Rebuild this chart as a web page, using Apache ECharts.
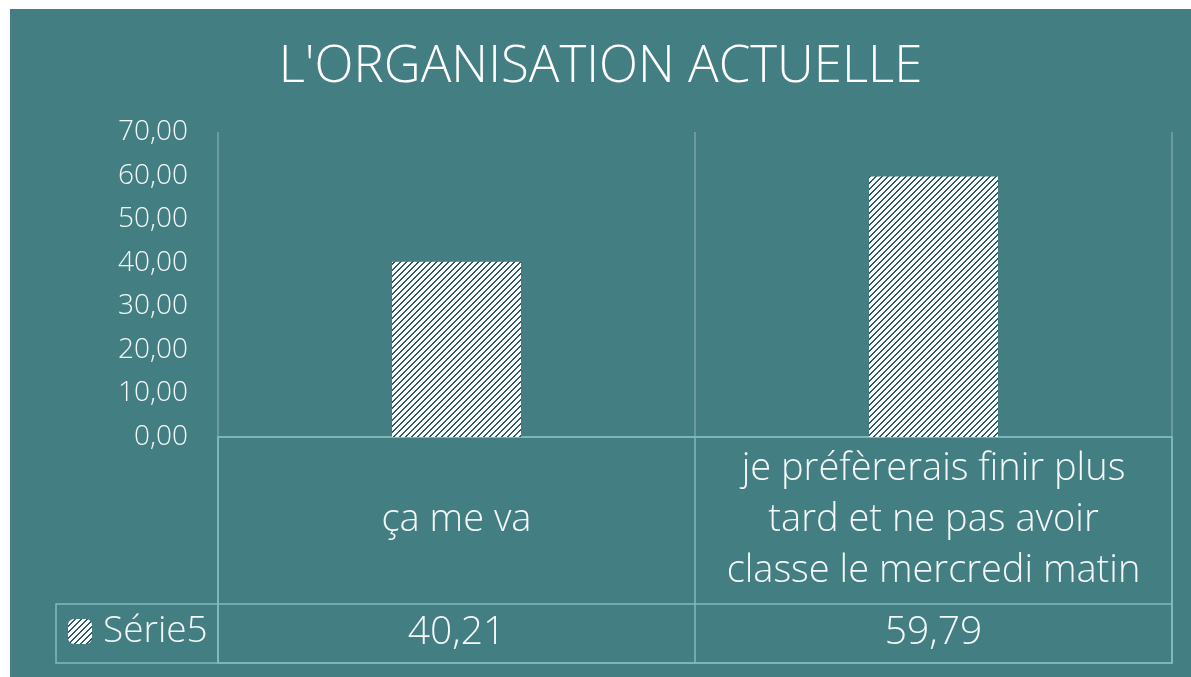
<!DOCTYPE html>
<html>
<head>
<meta charset="utf-8">
<script src="https://cdn.jsdelivr.net/npm/echarts@6/dist/echarts.min.js"></script>
<style>
  html, body { margin: 0; padding: 0; background: #ffffff; }
  #OrgChart { position: absolute; left: 10px; top: 9px; width: 1181px; height: 668px; }
</style>
</head>
<body>
<div id="OrgChart"></div>
<script>
const titleText = "L'ORGANISATION ACTUELLE";
const seriesName = 'Série5';
const categories = ['ça me va', 'je préfèrerais finir plus\ntard et ne pas avoir\nclasse le mercredi matin'];
const values = [40.21, 59.79];
const yTicks = { min: 0, max: 70, interval: 10 };

const FONT = '"Open Sans", sans-serif';
const TEXT = '#f4f8f8';
const TABLE_LINE = '#7fbcbc';

// motif hachuré des barres (blanc + diagonales foncées)
function hatch() {
  const c = document.createElement('canvas');
  c.width = 6; c.height = 6;
  const ctx = c.getContext('2d');
  ctx.fillStyle = '#ffffff';
  ctx.fillRect(0, 0, 6, 6);
  ctx.fillStyle = '#2c5d60';
  for (let x = 0; x < 6; x++) {
    for (let y = 0; y < 6; y++) {
      if ((x + y) % 6 < 2) ctx.fillRect(x, y, 1, 1);
    }
  }
  return c;
}

const fmt = v => v.toFixed(2).replace('.', ',');

let chart = echarts.init(document.getElementById('OrgChart'));
chart.setOption({
  backgroundColor: '#437e83',
  animation: false,
  title: {
    text: titleText,
    left: 'center',
    top: 28,
    textStyle: { color: '#ffffff', fontSize: 51, fontWeight: 300, fontFamily: FONT }
  },
  legend: {
    data: [seriesName],
    left: 58,
    top: 604,
    padding: 0,
    itemWidth: 24,
    itemHeight: 25,
    itemGap: 10,
    textStyle: { color: TEXT, fontSize: 37, fontWeight: 300, fontFamily: FONT, padding: [0, 0, 0, 6] }
  },
  grid: [
    { left: 208, right: 19, top: 123, bottom: 240 },                   // barres
    { left: 208, right: 19, top: 428, bottom: 14, show: true, borderColor: TABLE_LINE, borderWidth: 1.5 }, // table
    { left: 208, right: 19, top: 595, bottom: 14, show: true, borderColor: TABLE_LINE, borderWidth: 1.5 }, // ligne valeurs
    { left: 46, width: 162, top: 595, bottom: 14, show: true, borderColor: TABLE_LINE, borderWidth: 1.5 }  // cellule légende
  ],
  xAxis: [
    {
      type: 'category',
      gridIndex: 0,
      data: categories,
      axisLine: { show: true, lineStyle: { color: TABLE_LINE, width: 1.5 } },
      axisTick: { show: false },
      splitLine: { show: true, lineStyle: { color: '#7aa5a7', width: 1.5 } },
      axisLabel: {
        color: TEXT, fontSize: 38, fontWeight: 300, fontFamily: FONT, lineHeight: 51,
        margin: 83, verticalAlign: 'middle', interval: 0
      }
    },
    {
      type: 'category',
      gridIndex: 1,
      data: categories,
      axisLine: { show: false },
      axisTick: { show: false },
      axisLabel: { show: false },
      splitLine: { show: true, lineStyle: { color: TABLE_LINE, width: 1.5 } }
    },
    {
      type: 'category',
      gridIndex: 2,
      data: categories,
      axisLine: { show: false },
      axisTick: { show: false },
      axisLabel: {
        inside: true, margin: 30, verticalAlign: 'middle', interval: 0,
        color: TEXT, fontSize: 39, fontWeight: 300, fontFamily: FONT,
        formatter: (v, i) => fmt(values[i])
      }
    },
    { type: 'category', gridIndex: 3, data: [''], show: false }
  ],
  yAxis: [
    {
      type: 'value',
      gridIndex: 0,
      min: yTicks.min,
      max: yTicks.max,
      interval: yTicks.interval,
      axisLine: { show: false },
      axisTick: { show: false },
      splitLine: { show: false },
      axisLabel: { color: TEXT, fontSize: 28, fontWeight: 300, fontFamily: FONT, margin: 30, formatter: fmt }
    },
    { type: 'value', gridIndex: 1, show: false, splitLine: { show: false } },
    { type: 'value', gridIndex: 2, show: false, splitLine: { show: false } },
    { type: 'value', gridIndex: 3, show: false, splitLine: { show: false } }
  ],
  series: [
    {
      name: seriesName,
      type: 'bar',
      xAxisIndex: 0,
      yAxisIndex: 0,
      data: values,
      barWidth: 129,
      itemStyle: { color: { image: hatch(), repeat: 'repeat' } }
    }
  ]
});
</script>
</body>
</html>
